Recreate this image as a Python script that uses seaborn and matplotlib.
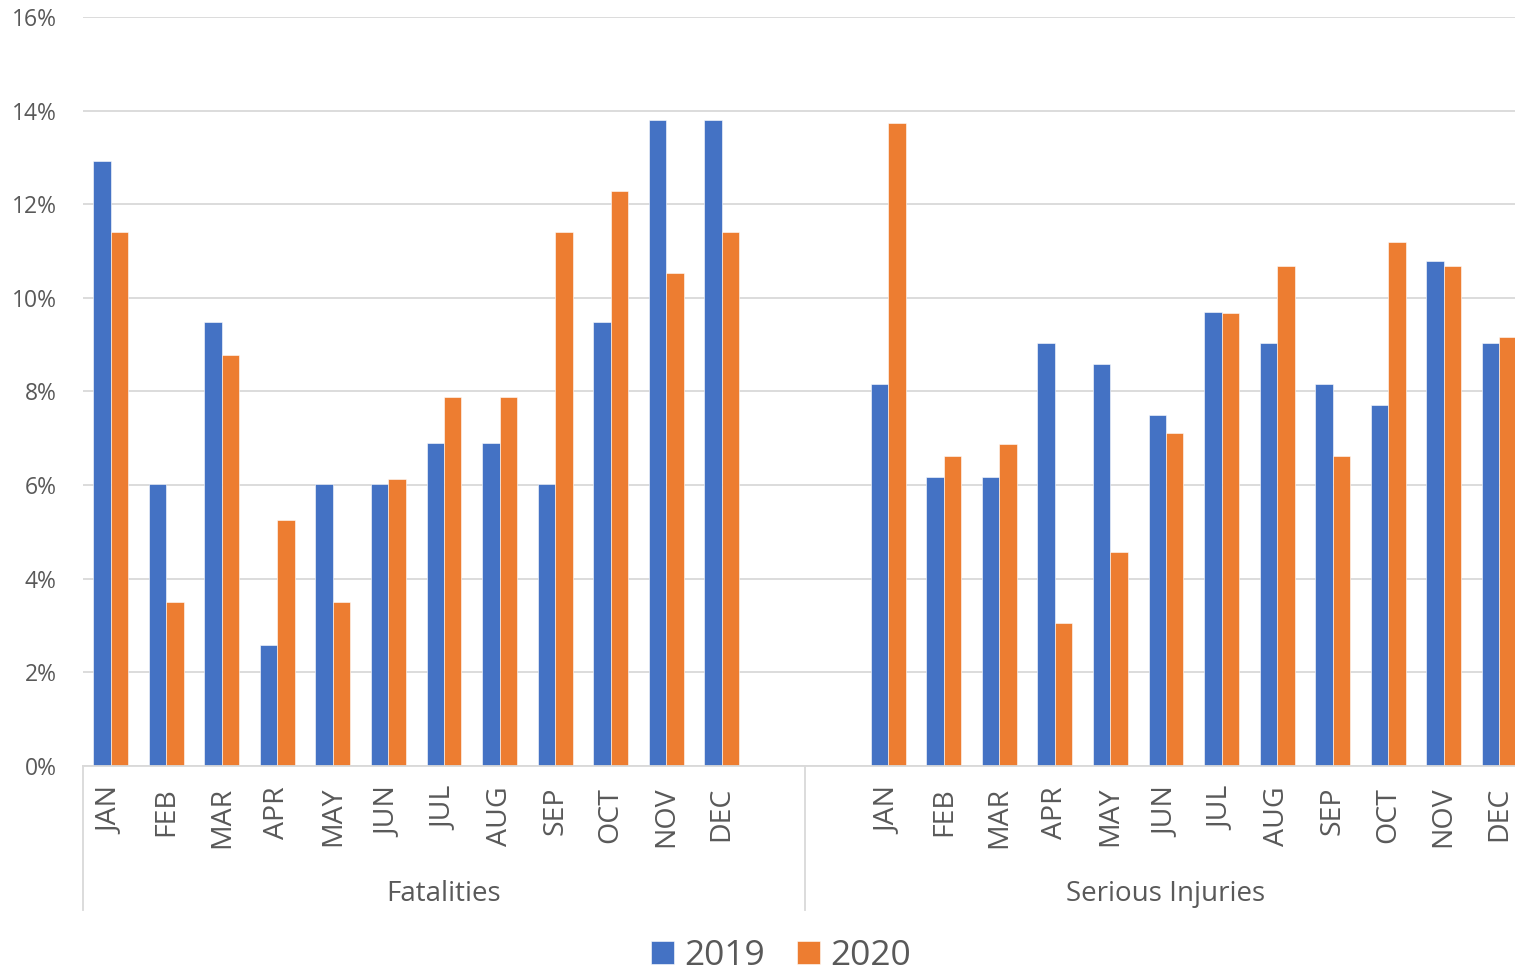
import numpy as np
import pandas as pd
import matplotlib
matplotlib.use("Agg")
import matplotlib.pyplot as plt
import seaborn as sns
from matplotlib.lines import Line2D

# ---------------- data ----------------
months = ["JAN", "FEB", "MAR", "APR", "MAY", "JUN",
          "JUL", "AUG", "SEP", "OCT", "NOV", "DEC"]
groups = ["Fatalities", "Serious Injuries"]
years = ["2019", "2020"]

fatal_2019 = [12.93, 6.03, 9.48, 2.59, 6.03, 6.03, 6.90, 6.90, 6.03, 9.48, 13.79, 13.79]
fatal_2020 = [11.40, 3.51, 8.77, 5.26, 3.51, 6.14, 7.89, 7.89, 11.40, 12.28, 10.53, 11.40]
serious_2019 = [8.15, 6.17, 6.17, 9.03, 8.59, 7.49, 9.69, 9.03, 8.15, 7.71, 10.79, 9.03]
serious_2020 = [13.74, 6.62, 6.87, 3.05, 4.58, 7.12, 9.67, 10.69, 6.62, 11.20, 10.69, 9.16]

yticks = [0, 2, 4, 6, 8, 10, 12, 14, 16]

# ---------------- build table ----------------
rows = []
for m, a, b in zip(months, fatal_2019, fatal_2020):
    rows.append(("Fatalities|" + m, "2019", a))
    rows.append(("Fatalities|" + m, "2020", b))
for m, a, b in zip(months, serious_2019, serious_2020):
    rows.append(("Serious Injuries|" + m, "2019", a))
    rows.append(("Serious Injuries|" + m, "2020", b))
df = pd.DataFrame(rows, columns=["slot", "year", "value"])

# Excel multi-level axis: fatalities has a trailing blank slot,
# serious injuries has a leading blank slot
order = (["Fatalities|" + m for m in months] + ["Fatalities|"] +
         ["Serious Injuries|"] + ["Serious Injuries|" + m for m in months])
tick_labels = [s.split("|")[1] for s in order]

# ---------------- figure ----------------
plt.rcParams["font.family"] = ["Open Sans", "DejaVu Sans"]
GRAY_TXT = "#595959"
GRID = "#D9D9D9"
palette = {"2019": "#4472C4", "2020": "#ED7D31"}

W, H = 1515, 972
fig = plt.figure(figsize=(W / 100, H / 100), dpi=100)
ax = fig.add_axes([83 / W, (H - 766) / H, 1 - 83 / W, (766 - 17) / H])

sns.barplot(data=df, x="slot", y="value", hue="year", order=order,
            hue_order=years, palette=palette, width=0.63, ax=ax,
            edgecolor="white", linewidth=0.4, saturation=1)

slot_px = (805 - 83) / 13.0
ax.set_xlim(-0.5, (W - 83) / slot_px - 0.5)
ax.set_ylim(0, 16)
ax.set_yticks(yticks)
ax.set_yticklabels([f"{v}%" for v in yticks])
ax.set_xticks(range(len(order)))
ax.set_xticklabels(tick_labels, rotation=90)
ax.set_xlabel("")
ax.set_ylabel("")

ax.tick_params(axis="x", length=0, pad=15, labelsize=20.5, labelcolor=GRAY_TXT)
ax.tick_params(axis="y", length=0, pad=19, labelsize=16.5, labelcolor=GRAY_TXT)

for s in ["top", "right", "left"]:
    ax.spines[s].set_visible(False)
ax.spines["bottom"].set_color(GRID)
ax.spines["bottom"].set_linewidth(1.3)
ax.yaxis.grid(True, color=GRID, linewidth=1.3)
ax.set_axisbelow(True)

# group dividers and labels
trans = ax.get_xaxis_transform()
ax_h = 766 - 17
y_bottom = -(910 - 766) / ax_h
for xv in [-0.5, 12.5]:
    ax.add_line(Line2D([xv, xv], [0, y_bottom], transform=trans,
                       color=GRID, linewidth=1.3, clip_on=False))
y_grp = -(894 - 766) / ax_h
ax.text(6.0, y_grp, groups[0], transform=trans, ha="center", va="center",
        fontsize=20, color=GRAY_TXT)
ax.text(19.0, y_grp, groups[1], transform=trans, ha="center", va="center",
        fontsize=20, color=GRAY_TXT)

# legend
handles, labels = ax.get_legend_handles_labels()
if ax.get_legend() is not None:
    ax.get_legend().remove()
leg = fig.legend(handles, labels, loc="center",
                 bbox_to_anchor=(781 / W, 1 - 956 / H), ncol=2, frameon=False,
                 fontsize=25.5, handlelength=0.65, handleheight=0.65,
                 handletextpad=0.3, columnspacing=0.9)
for t in leg.get_texts():
    t.set_color(GRAY_TXT)

fig.savefig("out.png", dpi=100)
